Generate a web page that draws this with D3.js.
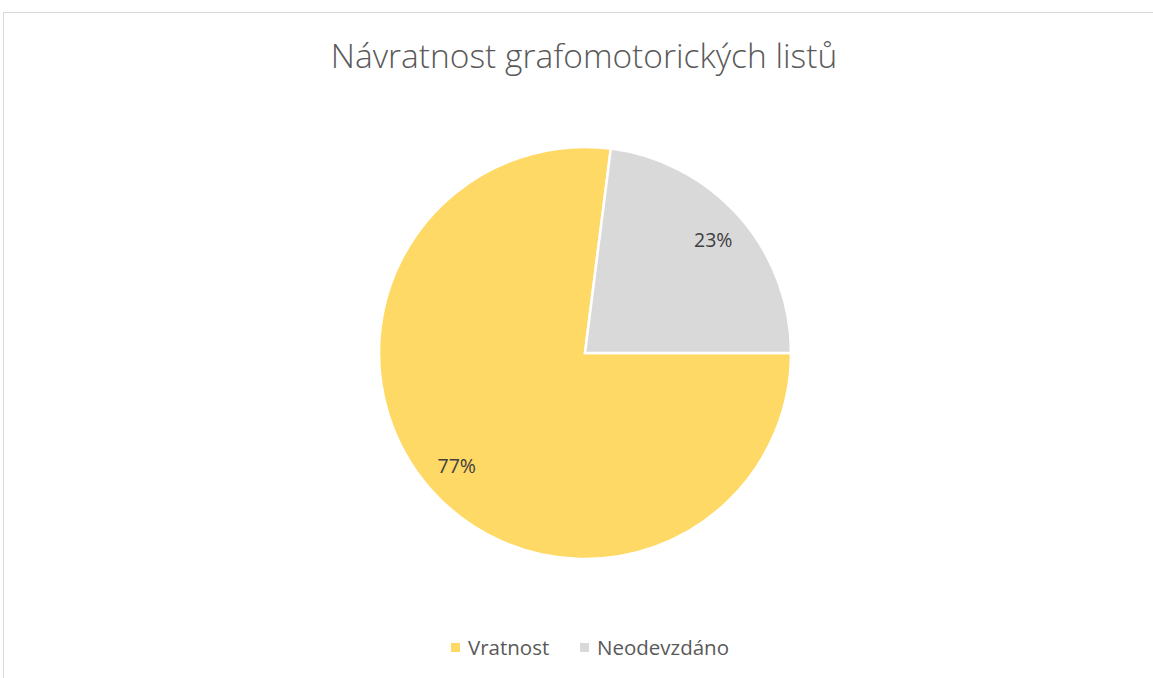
<!DOCTYPE html>
<html>
<head>
<meta charset="utf-8">
<script src="https://cdn.jsdelivr.net/npm/d3@7"></script>
<style>
  body { margin: 0; background: #fff; }
  text { font-family: "Open Sans", "Liberation Sans", sans-serif; }
</style>
</head>
<body>
<svg id="chart"></svg>
<script>
var title = "Návratnost grafomotorických listů";
var categories = ["Vratnost", "Neodevzdáno"];
var values = [77, 23];
var colors = ["#FFD966", "#D9D9D9"];

var width = 1153, height = 678;
var svg = d3.select("#chart")
  .attr("width", width)
  .attr("height", height);

// chart area border (runs off the right and bottom edges)
svg.append("rect")
  .attr("x", 3.5)
  .attr("y", 12.5)
  .attr("width", 1200)
  .attr("height", 700)
  .attr("fill", "#fff")
  .attr("stroke", "#D9D9D9")
  .attr("stroke-width", 1);

svg.append("text")
  .attr("x", 584)
  .attr("y", 68)
  .attr("text-anchor", "middle")
  .attr("font-size", 33.5)
  .attr("font-weight", 300)
  .attr("fill", "#595959")
  .text(title);

var cx = 585, cy = 353, r = 206;

var pie = d3.pie()
  .sort(null)
  .startAngle(Math.PI / 2)
  .endAngle(Math.PI / 2 + 2 * Math.PI);

var arc = d3.arc().innerRadius(0).outerRadius(r);
var labelArc = d3.arc().innerRadius(r * 0.83).outerRadius(r * 0.83);

var total = d3.sum(values);
var arcs = pie(values);

var g = svg.append("g")
  .attr("transform", "translate(" + cx + "," + cy + ")");

g.selectAll("path")
  .data(arcs)
  .enter()
  .append("path")
  .attr("d", arc)
  .attr("fill", (d, i) => colors[i])
  .attr("stroke", "#fff")
  .attr("stroke-width", 2.5)
  .attr("stroke-linejoin", "miter");

g.selectAll(".lbl")
  .data(arcs)
  .enter()
  .append("text")
  .attr("class", "lbl")
  .attr("transform", d => "translate(" + labelArc.centroid(d) + ")")
  .attr("text-anchor", "middle")
  .attr("dy", "0.35em")
  .attr("font-size", 19.5)
  .attr("fill", "#404040")
  .text(d => Math.round(d.value / total * 100) + "%");

// legend
var legendX = [451, 580];
var legend = svg.append("g");
categories.forEach((c, i) => {
  legend.append("rect")
    .attr("x", legendX[i])
    .attr("y", 643)
    .attr("width", 9)
    .attr("height", 9)
    .attr("fill", colors[i]);
  legend.append("text")
    .attr("x", legendX[i] + 17)
    .attr("y", 655)
    .attr("font-size", 20.5)
    .attr("fill", "#595959")
    .text(c);
});
</script>
</body>
</html>
